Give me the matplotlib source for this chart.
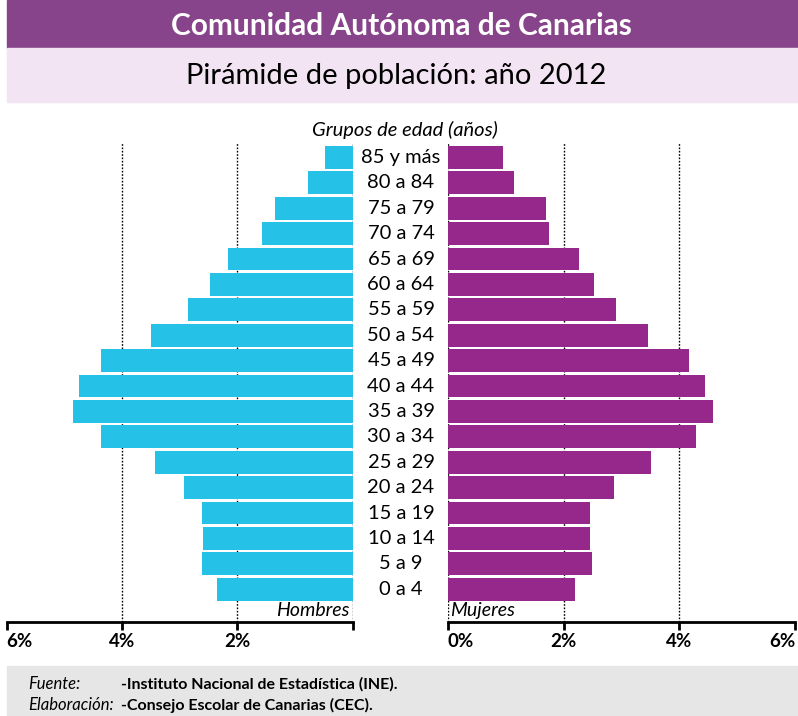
import matplotlib
matplotlib.use("Agg")
import matplotlib.pyplot as plt
from matplotlib.patches import Rectangle

plt.rcParams['font.family'] = ['Lato', 'DejaVu Sans']

# age groups from youngest to oldest
grupos = ['0 a 4', '5 a 9', '10 a 14', '15 a 19', '20 a 24', '25 a 29', '30 a 34',
          '35 a 39', '40 a 44', '45 a 49', '50 a 54', '55 a 59', '60 a 64',
          '65 a 69', '70 a 74', '75 a 79', '80 a 84', '85 y más']
hombres = [2.36, 2.62, 2.59, 2.62, 2.93, 3.42, 4.36, 4.85, 4.74, 4.36,
           3.49, 2.86, 2.48, 2.17, 1.58, 1.35, 0.78, 0.48]
mujeres = [2.20, 2.49, 2.46, 2.46, 2.87, 3.51, 4.29, 4.58, 4.45, 4.17,
           3.46, 2.91, 2.53, 2.27, 1.75, 1.70, 1.14, 0.95]
ticks = [0, 2, 4, 6]
labels_h = ['', '2%', '4%', '6%']
labels_m = ['0%', '2%', '4%', '6%']

W, H = 798, 716
fig = plt.figure(figsize=(W / 100, H / 100), dpi=100)


def px(x, y):
    # pixel coords (from top-left) -> figure fraction
    return x / W, 1 - y / H


def band(x0, y0, x1, y1, color):
    fx, fy = px(x0, y1)
    fig.patches.append(Rectangle((fx, fy), (x1 - x0) / W, (y1 - y0) / H,
                                 transform=fig.transFigure, color=color, zorder=0))


# header and footer bands
band(7, 0, 798, 48, '#87448A')
band(7, 48, 798, 102, '#F2E4F2')
band(7, 666, 798, 716, '#E6E6E6')

fig.text(*px(401, 26), 'Comunidad Autónoma de Canarias', color='white',
         fontsize=21.5, fontweight='bold', ha='center', va='center')
fig.text(*px(396, 76), 'Pirámide de población: año 2012', color='black',
         fontsize=21, ha='center', va='center')

ax_top, ax_bot = 143, 622
yb = 1 - ax_bot / H
hh = (ax_bot - ax_top) / H
axL = fig.add_axes([6.7 / W, yb, 346 / W, hh])
axR = fig.add_axes([448 / W, yb, 347 / W, hh])

y = list(range(len(grupos)))
axL.barh(y, hombres, height=0.9, color='#25C1E6', zorder=2)
axR.barh(y, mujeres, height=0.9, color='#96288C', zorder=2)

axL.set_xlim(6, 0)
axR.set_xlim(0, 6)
for ax, labs in ((axL, labels_h), (axR, labels_m)):
    ax.set_ylim(-1.29, 17.57)
    ax.set_yticks([])
    ax.set_xticks(ticks)
    ax.set_xticklabels(labs, fontweight='bold', fontsize=13.5)
    for s in ('top', 'left', 'right'):
        ax.spines[s].set_visible(False)
    ax.spines['bottom'].set_linewidth(2)
    ax.tick_params(axis='x', length=6, width=2, pad=2)
    for t in ticks[:-1]:
        ax.axvline(t, color='black', linestyle=(0, (1.2, 1.2)), linewidth=1, zorder=1)
    ax.set_facecolor('none')

for lab in axL.get_xticklabels():
    if lab.get_text() == '6%':
        lab.set_horizontalalignment('left')
for lab in axR.get_xticklabels():
    if lab.get_text() == '0%':
        lab.set_horizontalalignment('left')
    if lab.get_text() == '6%':
        lab.set_horizontalalignment('right')

# age labels in the middle
for i, g in enumerate(grupos):
    yy = axL.transData.transform((0, i))[1] / fig.dpi / (H / 100)
    fig.text(401 / W, yy, g, fontsize=14.5, ha='center', va='center')

fig.text(*px(405, 130), 'Grupos de edad (años)', fontsize=14.5, style='italic',
         ha='center', va='center')
axL.text(0.05, -0.85, 'Hombres', fontsize=14, style='italic', ha='right', va='center')
axR.text(0.03, -0.85, 'Mujeres', fontsize=14, style='italic', ha='left', va='center')

fig.text(*px(28, 684), 'Fuente:', fontsize=12, style='italic', va='center')
fig.text(*px(121, 684), '-Instituto Nacional de Estadística (INE).', fontsize=11.5,
         fontweight='bold', va='center')
fig.text(*px(28, 705), 'Elaboración:', fontsize=12, style='italic', va='center')
fig.text(*px(121, 705), '-Consejo Escolar de Canarias (CEC).', fontsize=11.5,
         fontweight='bold', va='center')

fig.savefig('out.png', dpi=100)
